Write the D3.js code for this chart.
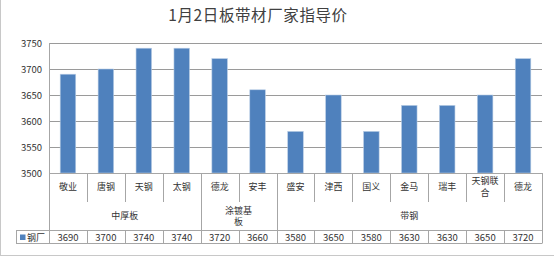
<!DOCTYPE html>
<html>
<head>
<meta charset="utf-8">
<script src="https://cdn.jsdelivr.net/npm/d3@7"></script>
<style>
  body { margin: 0; background: #fff; }
  svg text { font-family: "Noto Sans CJK SC", "Noto Sans", sans-serif; fill: #333; }
</style>
</head>
<body>
<div id="chart"></div>
<script>
var title = "1月2日板带材厂家指导价";
var categories = ["敬业", "唐钢", "天钢", "太钢", "德龙", "安丰", "盛安", "津西", "国义", "金马", "瑞丰", "天钢联合", "德龙"];
var values = [3690, 3700, 3740, 3740, 3720, 3660, 3580, 3650, 3580, 3630, 3630, 3650, 3720];
var groupNames = ["中厚板", "涂镀基板", "带钢"];
var groupSizes = [4, 2, 7];
var seriesName = "钢厂";
var yTicks = [3500, 3550, 3600, 3650, 3700, 3750];

var W = 554, H = 258;
var plotLeft = 49, plotRight = 542, plotTop = 43, plotBottom = 173;
var catRowEnd = 202, groupRowEnd = 230, dataRowEnd = 243, legendLeft = 16;
var lineColor = "#a6a6a6";

var svg = d3.select("#chart").append("svg")
  .attr("width", W)
  .attr("height", H);

// outer frame (left and bottom edges visible)
svg.append("line").attr("x1", 0.5).attr("x2", 0.5).attr("y1", 0).attr("y2", 255.5)
  .attr("stroke", "#c8c8c8");
svg.append("line").attr("x1", 0).attr("x2", W).attr("y1", 255.5).attr("y2", 255.5)
  .attr("stroke", "#c8c8c8");

svg.append("text")
  .attr("x", 258).attr("y", 21)
  .attr("text-anchor", "middle")
  .style("font-size", "15.5px")
  .style("letter-spacing", "0.6px")
  .style("fill", "#404040")
  .text(title);

var x = d3.scaleBand().domain(d3.range(categories.length)).range([plotLeft, plotRight]);
var y = d3.scaleLinear().domain([3500, 3750]).range([plotBottom, plotTop]);
var bw = x.bandwidth();

// gridlines
svg.append("g").selectAll("line").data(yTicks).join("line")
  .attr("x1", plotLeft).attr("x2", plotRight)
  .attr("y1", function(d) { return Math.round(y(d)) + 0.5; })
  .attr("y2", function(d) { return Math.round(y(d)) + 0.5; })
  .attr("stroke", "#9a9a9a");

// y axis labels
svg.append("g").selectAll("text").data(yTicks).join("text")
  .attr("x", 42)
  .attr("y", function(d) { return y(d) + 3.5; })
  .attr("text-anchor", "end")
  .style("font-size", "9.5px")
  .text(function(d) { return d; });

// bars
svg.append("g").selectAll("rect").data(values).join("rect")
  .attr("x", function(d, i) { return x(i) + bw * 0.295; })
  .attr("width", bw * 0.41)
  .attr("y", function(d) { return y(d); })
  .attr("height", function(d) { return plotBottom - y(d); })
  .attr("fill", "#4f81bd")
  .attr("stroke", "#b9cde5")
  .attr("stroke-width", 0.6);

// y axis line
svg.append("line").attr("x1", plotLeft + 0.5).attr("x2", plotLeft + 0.5)
  .attr("y1", plotTop).attr("y2", dataRowEnd)
  .attr("stroke", lineColor);

// table lines
var table = svg.append("g").attr("stroke", lineColor);
table.append("line").attr("x1", plotLeft).attr("x2", plotRight + 0.5)
  .attr("y1", plotBottom + 0.5).attr("y2", plotBottom + 0.5);
table.append("line").attr("x1", legendLeft).attr("x2", plotRight + 0.5)
  .attr("y1", groupRowEnd + 0.5).attr("y2", groupRowEnd + 0.5);
table.append("line").attr("x1", legendLeft).attr("x2", plotRight + 0.5)
  .attr("y1", dataRowEnd + 0.5).attr("y2", dataRowEnd + 0.5);
table.append("line").attr("x1", legendLeft + 0.5).attr("x2", legendLeft + 0.5)
  .attr("y1", groupRowEnd).attr("y2", dataRowEnd);

// group boundaries
var groupEdges = [0];
groupSizes.forEach(function(s, i) { groupEdges.push(groupEdges[i] + s); });
var isGroupEdge = function(i) { return groupEdges.indexOf(i) >= 0; };

d3.range(1, categories.length + 1).forEach(function(i) {
  var xx = Math.round(x(i - 1) + bw) + 0.5;
  table.append("line").attr("x1", xx).attr("x2", xx)
    .attr("y1", plotBottom)
    .attr("y2", isGroupEdge(i) ? dataRowEnd : catRowEnd);
  if (!isGroupEdge(i)) {
    table.append("line").attr("x1", xx).attr("x2", xx)
      .attr("y1", groupRowEnd).attr("y2", dataRowEnd);
  }
});

function wrapChars(s, maxChars) {
  var out = [];
  for (var i = 0; i < s.length; i += maxChars) out.push(s.slice(i, i + maxChars));
  return out;
}

function multiline(g, lines, cx, cy, lh, size) {
  var t = g.append("text")
    .attr("text-anchor", "middle")
    .style("font-size", size + "px");
  lines.forEach(function(l, k) {
    t.append("tspan")
      .attr("x", cx)
      .attr("y", cy + (k - (lines.length - 1) / 2) * lh + size * 0.36)
      .text(l);
  });
}

var maxChars = Math.floor((bw - 6) / 9.5);

// category labels
var labels = svg.append("g");
categories.forEach(function(c, i) {
  multiline(labels, wrapChars(c, maxChars), x(i) + bw / 2, 187, 12, 9);
});

// group labels (wrap like the spreadsheet does, at one column's width)
groupNames.forEach(function(g, k) {
  var x0 = x(groupEdges[k]);
  var w = groupSizes[k] * bw;
  multiline(labels, wrapChars(g, maxChars), x0 + w / 2, 216, 11, 9);
});

// data row
values.forEach(function(v, i) {
  labels.append("text")
    .attr("x", x(i) + bw / 2)
    .attr("y", 241)
    .attr("text-anchor", "middle")
    .style("font-size", "9.5px")
    .text(v);
});

// legend cell
svg.append("rect").attr("x", 20).attr("y", 234.5).attr("width", 5.5).attr("height", 5.5)
  .attr("fill", "#4f81bd");
svg.append("text").attr("x", 27).attr("y", 240.5)
  .style("font-size", "9px")
  .text(seriesName);
</script>
</body>
</html>
